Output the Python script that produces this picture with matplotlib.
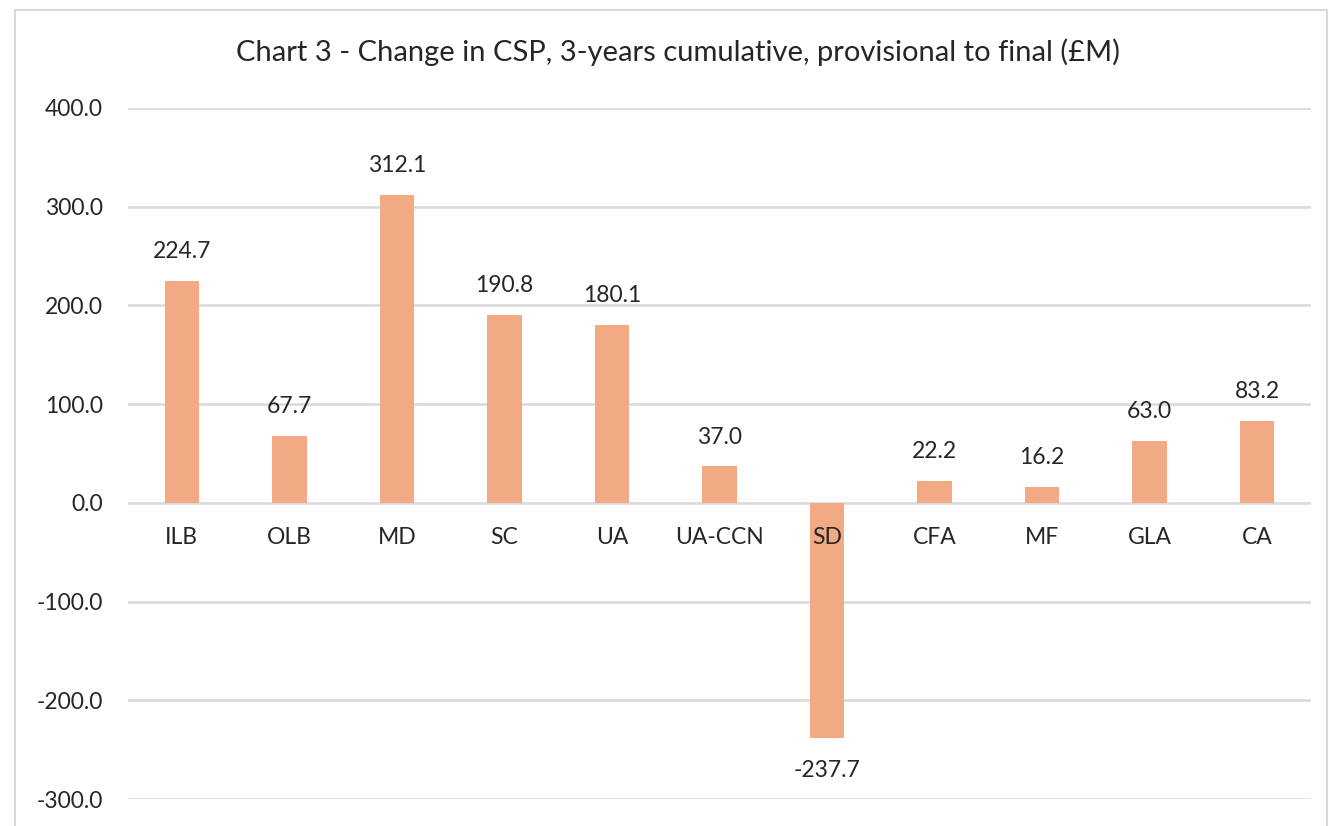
import numpy as np
import matplotlib.pyplot as plt
from matplotlib.patches import Rectangle
from matplotlib.ticker import FormatStrFormatter

plt.rcParams['font.family'] = ['Lato', 'DejaVu Sans']

categorias = ['ILB', 'OLB', 'MD', 'SC', 'UA', 'UA-CCN', 'SD', 'CFA', 'MF', 'GLA', 'CA']
cambio = [224.7, 67.7, 312.1, 190.8, 180.1, 37.0, -237.7, 22.2, 16.2, 63.0, 83.2]
ticks_y = [-300, -200, -100, 0, 100, 200, 300, 400]

fig = plt.figure(figsize=(13.29, 8.26), dpi=100)
ax = fig.add_axes([128/1329, 1-799/826, (1311-128)/1329, (799-108)/826])

# borde exterior del grafico
fig.patches.append(Rectangle((15/1329, -0.02), (1327-15)/1329, 1.02-10/826,
                             transform=fig.transFigure, fill=False,
                             edgecolor='#D9D9D9', linewidth=1.5))

x = np.arange(len(categorias))
ax.bar(x, cambio, width=0.32, color='#F2AA84', zorder=3)

ax.set_xlim(-0.5, len(categorias)-0.5)
ax.set_ylim(-300, 400)
ax.set_yticks(ticks_y)
ax.yaxis.set_major_formatter(FormatStrFormatter('%.1f'))
ax.grid(axis='y', color='#D9D9D9', linewidth=1.8, zorder=0)
ax.set_xticks([])
for s in ax.spines.values():
    s.set_visible(False)
ax.tick_params(axis='y', length=0, pad=18, labelsize=16.5, labelcolor='#262626')

for i, v in enumerate(cambio):
    # nombre de la categoria bajo la linea del cero
    ax.annotate(categorias[i], (i, 0), xytext=(0, -25), textcoords='offset points',
                ha='center', va='center', fontsize=16.5, color='#262626')
    if v >= 0:
        ax.annotate('%.1f' % v, (i, v), xytext=(0, 21), textcoords='offset points',
                    ha='center', va='center', fontsize=16.5, color='#262626')
    else:
        ax.annotate('%.1f' % v, (i, v), xytext=(0, -24), textcoords='offset points',
                    ha='center', va='center', fontsize=16.5, color='#262626')

fig.text(678/1329, 1-52/826, 'Chart 3 - Change in CSP, 3-years cumulative, provisional to final (£M)',
         ha='center', va='center', fontsize=21, color='#262626')

fig.savefig('out.png', dpi=100)
